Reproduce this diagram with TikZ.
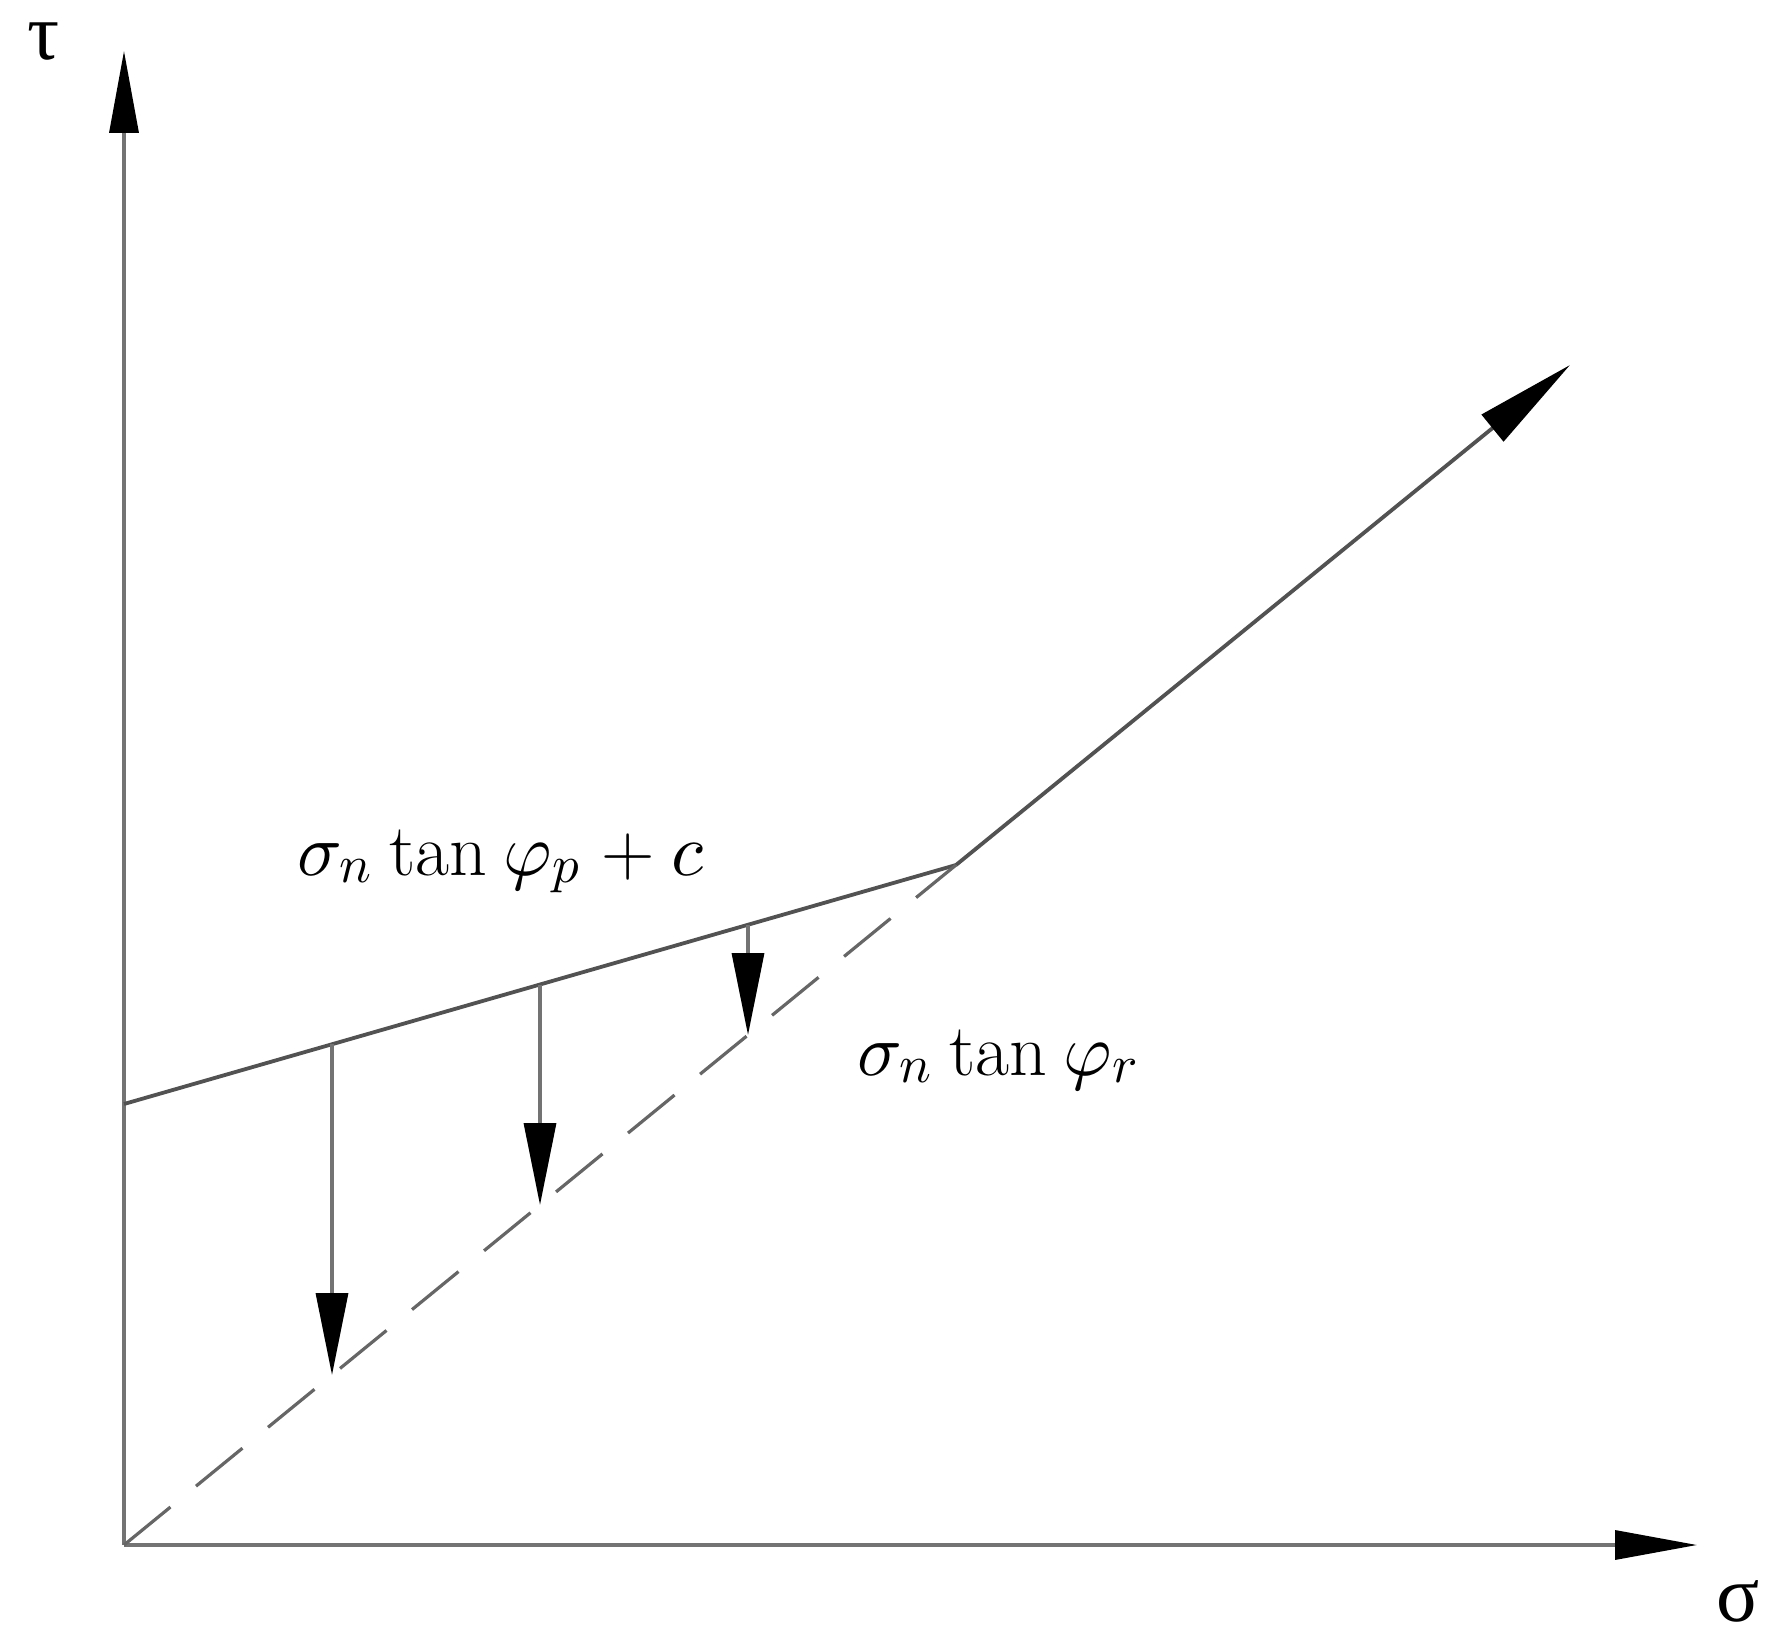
\documentclass[tikz,border=0pt]{standalone}
\usepackage{fontspec}
\newfontfamily\greekfont{Liberation Serif}
\DeclareFontFamily{OML}{cmm}{\skewchar\font127 }
\DeclareFontShape{OML}{cmm}{m}{it}{<-8>cmmi7<8->cmmi10}{}
\DeclareMathSizes{37}{37}{26.5}{20}
\usetikzlibrary{arrows.meta,calc}
\begin{document}
\begin{tikzpicture}[x=0.5pt,y=-0.5pt,
  axisline/.style={draw=black!55,line width=1.7pt},
  envelope/.style={draw=black!68,line width=1.9pt},
  bigtip/.style={-{Triangle[length=41pt,width=14.5pt,black]}},
  raytip/.style={-{Triangle[length=50pt,width=17pt,black]}},
  droptip/.style={-{Triangle[length=41pt,width=16pt,black]}},
  dashline/.style={draw=black!60,line width=1.6pt,dash pattern=on 30pt off 16.5pt},
  lbl/.style={inner sep=0pt,font=\fontsize{37}{44}\selectfont},
  axlbl/.style={inner sep=0pt,font=\greekfont\fontsize{40}{48}\selectfont}]
\useasboundingbox (0,0) rectangle (1784,1648);
\coordinate (O) at (124,1545);
\coordinate (Ytop) at (124,51);
\coordinate (Xend) at (1697,1545);
\coordinate (A) at (124,1104);
\coordinate (K) at (956,865);
\coordinate (R) at (1570,365);
% axes
\draw[axisline,bigtip] (O) -- (Ytop);
\draw[axisline,bigtip] (O) -- (Xend);
% envelope
\draw[envelope] (A) -- (K);
\draw[envelope,raytip] (K) -- (R);
% residual line
\draw[dashline] (O) -- (K);
% drop arrows
\foreach \t [count=\i] in {0.25,0.5,0.75}{
  \coordinate (T\i) at ($(A)!\t!(K)$);
  \coordinate (B\i) at ($(O)!\t!(K)$);
  \draw[axisline,droptip] (T\i) -- (B\i);
}
% labels
\node[axlbl] (tau) at (44,42) {τ};
\node[axlbl] (sig) at (1738,1601) {σ};
\node[lbl,anchor=base west] (peak) at (297,875)
  {$\sigma_n\mskip3mu\tan\mskip3mu\varphi_p\mskip4mu\mathbin{\mbox{+}}\mskip2mu c$};
\node[lbl,anchor=base west] (res) at (857,1075)
  {$\sigma_n\mskip3mu\tan\mskip3mu\varphi_r$};
\end{tikzpicture}
\end{document}
